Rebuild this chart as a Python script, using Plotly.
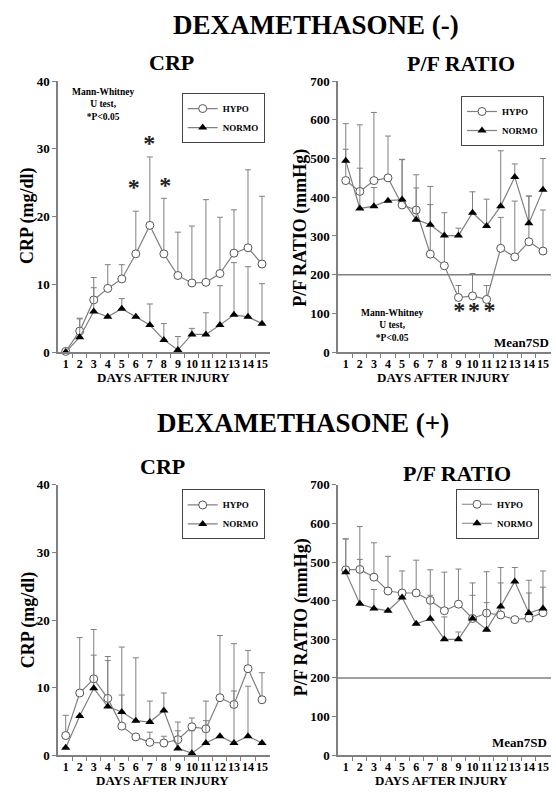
import plotly.graph_objects as go

W, H = 556, 798

days = list(range(1, 16))
day_labels = [str(d) for d in days]

# ---- DEXAMETHASONE (-) ----
crp_hypo = [0.1, 3.1, 7.7, 9.4, 10.8, 14.5, 18.7, 14.5, 11.3, 10.2, 10.3, 11.6, 14.6, 15.4, 13.0]
crp_hypo_sd = [0.3, 1.9, 3.3, 3.5, 2.1, 6.3, 10.1, 8.2, 6.4, 8.4, 12.2, 8.3, 6.4, 11.5, 10.0]
crp_normo = [0.0, 2.2, 6.0, 5.2, 6.4, 5.2, 4.0, 1.8, 0.3, 2.6, 2.6, 4.0, 5.5, 5.2, 4.2]
crp_normo_sd = [0.0, 2.7, 3.5, 0.0, 1.5, 0.0, 3.1, 2.4, 2.0, 0.9, 3.2, 5.8, 7.7, 7.4, 5.9]

pf_hypo = [443, 415, 443, 450, 380, 367, 253, 223, 141, 145, 136, 268, 246, 285, 261]
pf_hypo_sd = [147, 172, 176, 108, 118, 91, 175, 137, 31, 58, 36, 80, 144, 118, 106]
pf_normo = [494, 371, 377, 391, 394, 342, 329, 301, 301, 360, 326, 377, 452, 333, 419]
pf_normo_sd = [30, 104, 48, 0, 103, 82, 52, 0, 19, 54, 69, 143, 34, 70, 81]

# ---- DEXAMETHASONE (+) ----
crp2_hypo = [2.9, 9.2, 11.3, 8.4, 4.3, 2.7, 1.9, 1.8, 2.3, 4.2, 3.9, 8.5, 7.5, 12.8, 8.2]
crp2_hypo_sd = [3.0, 8.2, 7.3, 6.2, 11.7, 0.0, 1.5, 1.0, 2.6, 1.3, 4.1, 9.2, 9.0, 2.7, 4.0]
crp2_normo = [1.1, 5.8, 9.9, 7.2, 6.4, 5.1, 4.9, 6.6, 1.0, 0.3, 1.8, 2.8, 1.8, 2.8, 1.8]
crp2_normo_sd = [0.0, 0.0, 4.9, 6.8, 2.5, 9.3, 3.1, 2.6, 2.6, 3.3, 3.3, 0.0, 7.7, 7.4, 0.0]

pf2_hypo = [480, 481, 461, 425, 420, 420, 401, 374, 391, 354, 368, 363, 351, 355, 369]
pf2_hypo_sd = [80, 111, 89, 90, 57, 85, 79, 100, 91, 92, 107, 83, 0, 65, 108]
pf2_normo = [474, 392, 380, 374, 408, 340, 353, 300, 300, 354, 325, 385, 450, 368, 380]
pf2_normo_sd = [86, 115, 49, 0, 0, 0, 61, 58, 19, 60, 70, 101, 36, 85, 55]

# significance asterisks
crp_star_x = [5.85, 6.95, 8.1]
crp_star_y = [24.1, 30.6, 24.4]
pf_star_x = [9.05, 10.1, 11.2]
pf_star_y = [104, 104, 104]

pf_threshold = 200

crp_ticks = [0, 10, 20, 30, 40]
pf_ticks = [0, 100, 200, 300, 400, 500, 600, 700]

FONT = "Liberation Serif"
GRAY = "#808080"


def px(x):
    return x / W


def py(y):
    return 1 - y / H


fig = go.Figure()


def add_panel(n, hypo, hypo_sd, normo, normo_sd, legend):
    xa = "x" if n == 1 else f"x{n}"
    ya = "y" if n == 1 else f"y{n}"
    err = dict(type="data", symmetric=False, arrayminus=[0] * len(days),
               color=GRAY, thickness=1, width=3)
    fig.add_trace(go.Scatter(
        x=days, y=hypo, mode="lines+markers", name="HYPO",
        xaxis=xa, yaxis=ya, legend=legend, cliponaxis=False,
        line=dict(color=GRAY, width=1.2),
        marker=dict(symbol="circle", size=8, color="white",
                    line=dict(color="#555555", width=1)),
        error_y=dict(array=hypo_sd, **err)))
    fig.add_trace(go.Scatter(
        x=days, y=normo, mode="lines+markers", name="NORMO",
        xaxis=xa, yaxis=ya, legend=legend, cliponaxis=False,
        line=dict(color=GRAY, width=1.2),
        marker=dict(symbol="triangle-up", size=8, color="black"),
        error_y=dict(array=normo_sd, **err)))


add_panel(1, crp_hypo, crp_hypo_sd, crp_normo, crp_normo_sd, "legend")
add_panel(2, pf_hypo, pf_hypo_sd, pf_normo, pf_normo_sd, "legend2")
add_panel(3, crp2_hypo, crp2_hypo_sd, crp2_normo, crp2_normo_sd, "legend3")
add_panel(4, pf2_hypo, pf2_hypo_sd, pf2_normo, pf2_normo_sd, "legend4")

# asterisks
fig.add_trace(go.Scatter(x=crp_star_x, y=crp_star_y, mode="text", text=["*"] * 3,
                         textfont=dict(size=24, family=FONT, color="#222"),
                         xaxis="x", yaxis="y", showlegend=False, cliponaxis=False))
fig.add_trace(go.Scatter(x=pf_star_x, y=pf_star_y, mode="text", text=["*"] * 3,
                         textfont=dict(size=24, family=FONT, color="#222"),
                         xaxis="x2", yaxis="y2", showlegend=False, cliponaxis=False))

xrange = [0.45, 15.57]


def xaxis(domain, anchor):
    return dict(domain=domain, anchor=anchor, range=xrange,
                tickmode="array", tickvals=days, ticktext=day_labels,
                ticks="", tickangle=0, tickfont=dict(size=12, color="black"),
                showline=True, linecolor=GRAY, linewidth=1.5,
                showgrid=False, zeroline=False,
                minor=dict(tickmode="array", tickvals=[d + 0.5 for d in days[:-1]],
                           ticks="outside", ticklen=4, tickcolor=GRAY, tickwidth=1))


def yaxis(domain, anchor, rng, ticks):
    return dict(domain=domain, anchor=anchor, range=rng,
                tickmode="array", tickvals=ticks,
                ticks="outside", ticklen=4, tickcolor=GRAY, tickwidth=1,
                tickfont=dict(size=13, color="black"),
                showline=True, linecolor=GRAY, linewidth=1.5,
                showgrid=False, zeroline=False)


xl = [px(58), px(270)]
xr = [px(338), px(551)]
yt = [py(351.7), py(75.5)]
yb = [py(762.5), py(487)]

legend_style = dict(bgcolor="white", bordercolor="#444", borderwidth=1,
                    font=dict(size=9, family=FONT, color="black"),
                    itemwidth=30, xanchor="left", yanchor="top",
                    tracegroupgap=0)

fig.update_layout(
    width=W, height=H, margin=dict(l=0, r=0, t=0, b=0),
    paper_bgcolor="white", plot_bgcolor="white",
    font=dict(family=FONT, color="black", weight="bold"),
    xaxis=xaxis(xl, "y"), yaxis=yaxis(yt, "x", [0, 40], crp_ticks),
    xaxis2=xaxis(xr, "y2"), yaxis2=yaxis(yt, "x2", [0, 700], pf_ticks),
    xaxis3=xaxis(xl, "y3"), yaxis3=yaxis(yb, "x3", [0, 40], crp_ticks),
    xaxis4=xaxis(xr, "y4"), yaxis4=yaxis(yb, "x4", [0, 700], pf_ticks),
    legend=dict(x=px(181.7), y=py(87.7), **legend_style),
    legend2=dict(x=px(461), y=py(90.7), **legend_style),
    legend3=dict(x=px(181.7), y=py(491.7), **legend_style),
    legend4=dict(x=px(456), y=py(491), **legend_style),
    showlegend=True,
)

for n in (2, 4):
    fig.add_shape(type="line", xref=f"x{n} domain", x0=0, x1=1,
                  yref=f"y{n}", y0=pf_threshold, y1=pf_threshold,
                  line=dict(color=GRAY, width=1.5))


def note(text, x, y, size, xanchor="center", yanchor="middle", angle=0):
    fig.add_annotation(text=text, x=px(x), y=py(y), xref="paper", yref="paper",
                       showarrow=False, xanchor=xanchor, yanchor=yanchor,
                       textangle=angle, font=dict(size=size, family=FONT,
                                                  color="black", weight="bold"))


note("DEXAMETHASONE (-)", 316, 18, 27)
note("DEXAMETHASONE (+)", 303, 424, 27)
note("CRP", 171, 57, 22)
note("P/F RATIO", 461.5, 58, 22)
note("CRP", 162, 468, 22)
note("P/F RATIO", 456.5, 475, 22)

note("CRP (mg/dl)", 28, 213, 18, angle=-90)
note("P/F RATIO (mmHg)", 301, 225, 18, angle=-90)
note("CRP (mg/dl)", 28, 625, 18, angle=-90)
note("P/F RATIO (mmHg)", 301, 622, 18, angle=-90)

note("DAYS AFTER INJURY", 163, 378, 13)
note("DAYS AFTER INJURY", 443.5, 378, 13)
note("DAYS AFTER INJURY", 162.5, 788, 13)
note("DAYS AFTER INJURY", 441, 788, 13)

note("Mann-Whitney<br>U test,<br>*P<0.05", 103.5, 80, 9.5, yanchor="top")
note("Mann-Whitney<br>U test,<br>*P<0.05", 392.5, 305, 9.5, yanchor="top")

note("Mean7SD", 551, 341.7, 13, xanchor="right")
note("Mean7SD", 549, 750, 13, xanchor="right")

fig.write_html("out.html",
               config={"displayModeBar": False},
               post_script="document.body.style.margin='0';"
                           "document.body.style.overflow='hidden';")
